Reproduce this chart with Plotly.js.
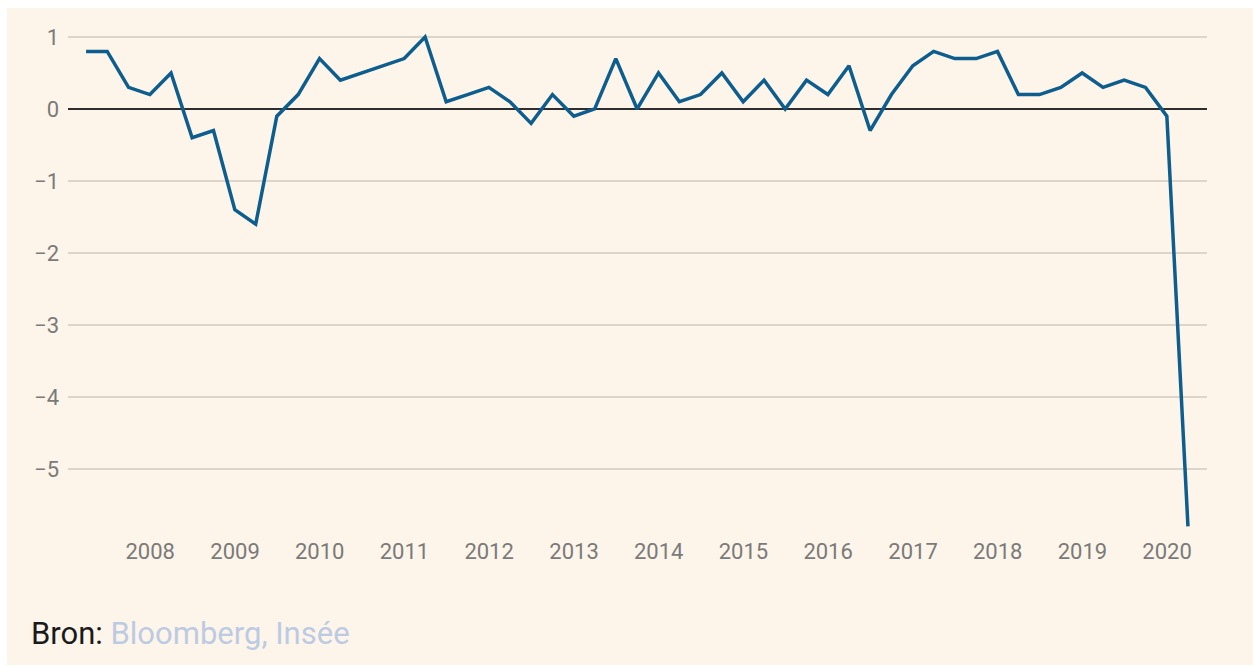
<!DOCTYPE html>
<html>
<head>
<meta charset="utf-8">
<script src="https://cdn.plot.ly/plotly-3.0.1.min.js"></script>
<style>
html,body{margin:0;padding:0;background:#ffffff;}
#wrap{position:absolute;left:7px;top:8px;width:1246px;height:657px;background:#fdf5e9;}
#chart{position:absolute;left:0;top:0;width:1253px;height:666px;}
</style>
</head>
<body>
<div id="wrap"></div>
<div id="chart"></div>
<script>
// Quarterly GDP growth, France (% q/q), Q1 2007 – Q1 2020
const quarters = [
  "2007-03-31","2007-06-30","2007-09-30","2007-12-31",
  "2008-03-31","2008-06-30","2008-09-30","2008-12-31",
  "2009-03-31","2009-06-30","2009-09-30","2009-12-31",
  "2010-03-31","2010-06-30","2010-09-30","2010-12-31",
  "2011-03-31","2011-06-30","2011-09-30","2011-12-31",
  "2012-03-31","2012-06-30","2012-09-30","2012-12-31",
  "2013-03-31","2013-06-30","2013-09-30","2013-12-31",
  "2014-03-31","2014-06-30","2014-09-30","2014-12-31",
  "2015-03-31","2015-06-30","2015-09-30","2015-12-31",
  "2016-03-31","2016-06-30","2016-09-30","2016-12-31",
  "2017-03-31","2017-06-30","2017-09-30","2017-12-31",
  "2018-03-31","2018-06-30","2018-09-30","2018-12-31",
  "2019-03-31","2019-06-30","2019-09-30","2019-12-31",
  "2020-03-31"
];
const growth = [
  0.8, 0.8, 0.3, 0.2,
  0.5, -0.4, -0.3, -1.4,
  -1.6, -0.1, 0.2, 0.7,
  0.4, 0.5, 0.6, 0.7,
  1.0, 0.1, 0.2, 0.3,
  0.1, -0.2, 0.2, -0.1,
  0.0, 0.7, 0.0, 0.5,
  0.1, 0.2, 0.5, 0.1,
  0.4, 0.0, 0.4, 0.2,
  0.6, -0.3, 0.2, 0.6,
  0.8, 0.7, 0.7, 0.8,
  0.2, 0.2, 0.3, 0.5,
  0.3, 0.4, 0.3, -0.1,
  -5.8
];
const xTickVals = ["2008-01-01","2009-01-01","2010-01-01","2011-01-01","2012-01-01","2013-01-01","2014-01-01","2015-01-01","2016-01-01","2017-01-01","2018-01-01","2019-01-01","2020-01-01"];
const xTickText = ["2008","2009","2010","2011","2012","2013","2014","2015","2016","2017","2018","2019","2020"];
const yTickVals = [1, 0, -1, -2, -3, -4, -5];
const yTickText = ["1", "0", "\u22121", "\u22122", "\u22123", "\u22124", "\u22125"];
const sourceLabel = "Bron:";
const sourceNames = "Bloomberg, Insée";

const trace = {
  x: quarters,
  y: growth,
  type: "scatter",
  mode: "lines",
  line: {color: "#0d5e8e", width: 3.5},
  hoverinfo: "x+y"
};

const layout = {
  width: 1253,
  height: 666,
  margin: {l: 68, r: 46, t: 10, b: 136},
  paper_bgcolor: "rgba(0,0,0,0)",
  plot_bgcolor: "rgba(0,0,0,0)",
  showlegend: false,
  font: {family: "Roboto, sans-serif", color: "#777777"},
  xaxis: {
    type: "date",
    range: ["2007-01-12", "2020-06-21"],
    tickvals: xTickVals,
    ticktext: xTickText,
    showgrid: false,
    zeroline: false,
    showline: false,
    ticks: "",
    tickfont: {size: 22, color: "#7a7a7a", family: "Roboto, sans-serif"},
    ticklabelstandoff: 6
  },
  yaxis: {
    range: [-5.85, 1.375],
    tickvals: yTickVals,
    ticktext: yTickText,
    showgrid: true,
    gridcolor: "#dcd6ca",
    gridwidth: 1.5,
    zeroline: true,
    zerolinecolor: "#2e2e2e",
    zerolinewidth: 2.5,
    showline: false,
    ticks: "",
    tickfont: {size: 22, color: "#7a7a7a", family: "Roboto, sans-serif"},
    ticklabelstandoff: 8
  },
  annotations: [{
    xref: "paper", yref: "paper",
    x: (29 - 68) / 1139, y: 0,
    xanchor: "left", yanchor: "middle",
    yshift: -103,
    showarrow: false,
    align: "left",
    text: sourceLabel + " <span style=\"color:#bccbe3\">" + sourceNames + "</span>",
    font: {size: 31, color: "#1a1a1a", family: "Roboto, sans-serif"}
  }]
};

Plotly.newPlot("chart", [trace], layout, {displayModeBar: false, staticPlot: true});
</script>
</body>
</html>
